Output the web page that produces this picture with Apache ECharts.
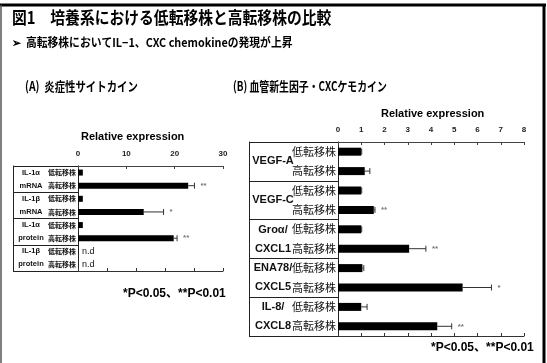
<!DOCTYPE html>
<html>
<head>
<meta charset="utf-8">
<script src="https://cdn.jsdelivr.net/npm/echarts@6/dist/echarts.min.js"></script>
<style>
  html, body { margin: 0; padding: 0; background: #fff; }
  #chart { width: 547px; height: 363px; }
</style>
</head>
<body>
<div id="chart"></div>
<script>
// 行ラベル（各群に低転移株・高転移株）
const rowNames = ['低転移株', '高転移株'];

// (A) 炎症性サイトカイン
const leftGroups = ['IL-1α\nmRNA', 'IL-1β\nmRNA', 'IL-1α\nprotein', 'IL-1β\nprotein'];
const leftMean = [1.0, 22.8, 1.0, 13.6, 1.0, 19.8, null, null];
const leftErr = [0, 1.3, 0, 4.1, 0, 0.7, null, null];
const leftSig = ['', '**', '', '*', '', '**', '', ''];
const leftTicks = [0, 10, 20, 30];

// (B) 血管新生因子・CXCケモカイン
const rightGroups = ['VEGF-A', 'VEGF-C', 'Groα/\nCXCL1', 'ENA78/\nCXCL5', 'IL-8/\nCXCL8'];
const rightMean = [1.0, 1.15, 1.0, 1.54, 1.0, 3.06, 1.05, 5.36, 1.0, 4.27];
const rightErr = [0.02, 0.22, 0.02, 0.05, 0.02, 0.72, 0.06, 1.24, 0.25, 0.62];
const rightSig = ['', '', '', '**', '', '**', '', '*', '', '**'];
const rightTicks = [0, 1, 2, 3, 4, 5, 6, 7, 8];

const FONT = "'Liberation Sans', 'Noto Sans CJK JP', sans-serif";
const JP = "'Noto Sans CJK JP', 'Liberation Sans', sans-serif";

const chart = echarts.init(document.getElementById('chart'));

function rowCats(n) {
    const out = [];
    for (let i = 0; i < n; i++) out.push(String(i));
    return out;
}

// エラーバー・有意差マーク・n.d を描くカスタム系列
function errSeries(mean, err, sig, xi, yi, cap, sigSize) {
    return {
        type: 'custom',
        xAxisIndex: xi,
        yAxisIndex: yi,
        z: 5,
        data: mean.map((m, i) => [m == null ? 0 : m, i, err[i] || 0, m == null ? 1 : 0]),
        renderItem(params, api) {
            const m = api.value(0), idx = api.value(1), e = api.value(2), nd = api.value(3);
            const base = api.coord([m, idx]);
            const children = [];
            if (nd) {
                children.push({
                    type: 'text',
                    style: { x: base[0] + 4, y: base[1], text: 'n.d', font: '9px ' + FONT, fill: '#111', verticalAlign: 'middle' }
                });
                return { type: 'group', children };
            }
            const end = api.coord([m + e, idx]);
            if (e > 0) {
                children.push({ type: 'line', shape: { x1: base[0], y1: base[1], x2: end[0], y2: end[1] }, style: { stroke: '#333', lineWidth: 1 } });
                children.push({ type: 'line', shape: { x1: end[0], y1: end[1] - cap, x2: end[0], y2: end[1] + cap }, style: { stroke: '#333', lineWidth: 1 } });
            }
            const s = sig[params.dataIndex];
            if (s) {
                children.push({
                    type: 'text',
                    style: { x: end[0] + 6, y: end[1], text: s, font: 'bold ' + sigSize + 'px ' + FONT, fill: '#777', verticalAlign: 'middle' }
                });
            }
            return { type: 'group', children };
        }
    };
}

function topAxis(gi, ticks) {
    return {
        type: 'value', gridIndex: gi, position: 'top',
        min: ticks[0], max: ticks[ticks.length - 1], interval: ticks[1] - ticks[0],
        axisLine: { show: true, lineStyle: { color: '#444', width: 1 } },
        axisTick: { show: true, inside: true, length: 3, lineStyle: { color: '#444' } },
        axisLabel: { show: true, fontFamily: FONT, fontWeight: 'bold', fontSize: 8, color: '#222', margin: 8 },
        splitLine: { show: false }
    };
}

function bottomAxis(gi, ticks, interval) {
    return {
        type: 'value', gridIndex: gi, position: 'bottom',
        min: ticks[0], max: ticks[ticks.length - 1], interval: interval,
        axisLine: { show: true, lineStyle: { color: '#333', width: 1 } },
        axisTick: { show: true, inside: true, length: 3, lineStyle: { color: '#333' } },
        axisLabel: { show: false },
        splitLine: { show: false }
    };
}

function rowAxis(gi, n, size, weight) {
    return {
        type: 'category', gridIndex: gi, position: 'left', inverse: true,
        data: rowCats(n),
        axisLine: { show: true, lineStyle: { color: '#222', width: 1 } },
        axisTick: { show: false },
        axisLabel: {
            margin: 2, fontFamily: JP, fontSize: size, fontWeight: weight, color: '#111',
            formatter: (v, i) => rowNames[i % 2]
        }
    };
}

function groupAxis(gi, groups, boxW, labelX, size, lh) {
    return {
        type: 'category', gridIndex: gi, position: 'left', inverse: true,
        data: groups,
        axisLine: { show: false },
        axisTick: { show: true, length: boxW, lineStyle: { color: '#222', width: 1 } },
        axisLabel: {
            margin: labelX, align: 'center', fontFamily: FONT, fontWeight: 'bold',
            fontSize: size, lineHeight: lh, color: '#111'
        }
    };
}

function edgeAxis(gi, groups, boxW) {
    return {
        type: 'category', gridIndex: gi, position: 'left', offset: boxW,
        data: groups,
        axisLine: { show: true, lineStyle: { color: '#222', width: 1 } },
        axisTick: { show: false },
        axisLabel: { show: false }
    };
}

function txt(x, y, text, font, sx) {
    return { type: 'text', x: x, y: y, scaleX: sx || 1, style: { text: text, font: font, fill: '#000', verticalAlign: 'top' } };
}

const option = {
    animation: false,
    backgroundColor: '#fff',
    grid: [
        { left: 78, top: 166, width: 145, height: 105 },
        { left: 338, top: 142, width: 186, height: 194 }
    ],
    xAxis: [
        topAxis(0, leftTicks),
        bottomAxis(0, leftTicks, 6),
        topAxis(1, rightTicks),
        bottomAxis(1, rightTicks, 1)
    ],
    yAxis: [
        rowAxis(0, leftMean.length, 7, 'bold'),
        groupAxis(0, leftGroups, 65, 47, 7.5, 13),
        edgeAxis(0, leftGroups, 65),
        rowAxis(1, rightMean.length, 11, 'normal'),
        groupAxis(1, rightGroups, 89, 65, 11, 19),
        edgeAxis(1, rightGroups, 89)
    ],
    series: [
        {
            type: 'bar', xAxisIndex: 0, yAxisIndex: 0, barWidth: 6,
            data: leftMean.map(v => (v == null ? '-' : v)),
            itemStyle: { color: '#000' }
        },
        errSeries(leftMean, leftErr, leftSig, 0, 0, 3, 8),
        {
            type: 'bar', xAxisIndex: 2, yAxisIndex: 3, barWidth: 8,
            data: rightMean,
            itemStyle: { color: '#000' }
        },
        errSeries(rightMean, rightErr, rightSig, 2, 3, 3, 8)
    ],
    graphic: [
        { type: 'line', shape: { x1: 0, y1: 5, x2: 546, y2: 5 }, style: { stroke: '#000', lineWidth: 3 } },
        { type: 'line', shape: { x1: 544, y1: 5, x2: 544, y2: 363 }, style: { stroke: '#000', lineWidth: 3 } },
        { type: 'line', shape: { x1: 1, y1: 5, x2: 1, y2: 363 }, style: { stroke: '#555', lineWidth: 1.5 } },
        txt(12, 9, '図1　培養系における低転移株と高転移株の比較', 'bold 17px ' + JP, 0.87),
        txt(12, 36, '➢  高転移株においてIL−1、CXC chemokineの発現が上昇', 'bold 12px ' + JP, 0.9),
        txt(25, 80, '(A)  炎症性サイトカイン', 'bold 13px ' + JP, 0.8),
        txt(233, 80, '(B) 血管新生因子・CXCケモカイン', 'bold 13px ' + JP, 0.76),
        txt(81, 131, 'Relative expression', 'bold 11px ' + FONT),
        txt(381, 108, 'Relative expression', 'bold 11px ' + FONT),
        txt(123, 288, '*P<0.05、**P<0.01', 'bold 12px ' + FONT),
        txt(431, 342, '*P<0.05、**P<0.01', 'bold 12px ' + FONT)
    ]
};

chart.setOption(option);
</script>
</body>
</html>
